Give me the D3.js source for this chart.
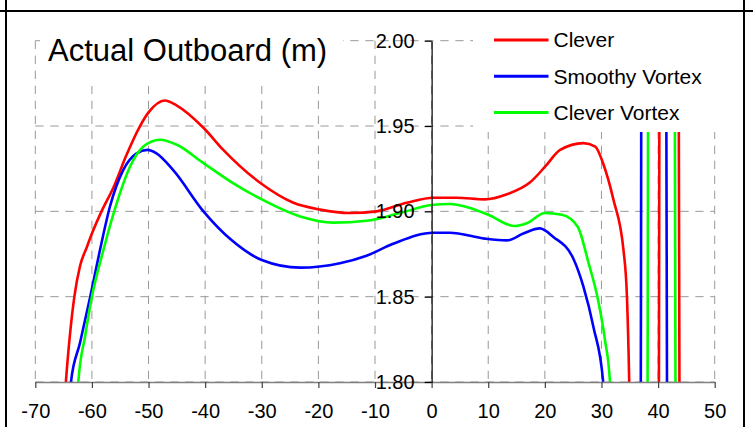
<!DOCTYPE html>
<html>
<head>
<meta charset="utf-8">
<script src="https://cdn.jsdelivr.net/npm/d3@7"></script>
<style>
  body { margin: 0; background: #fff; }
  svg { display: block; font-family: "Liberation Sans", Arial, sans-serif; }
</style>
</head>
<body>
<div id="container"></div>
<script>
var xTicks = [-70, -60, -50, -40, -30, -20, -10, 0, 10, 20, 30, 40, 50];
var yTicks = [1.80, 1.85, 1.90, 1.95, 2.00];

var seriesNames = ['Clever', 'Smoothy Vortex', 'Clever Vortex'];
var seriesColors = ['#ff0000', '#0000ff', '#00ff00'];

// [position, outboard]; points past 1.80 / 2.00 run off the plot
var clever = [
    [-65.0, 1.78], [-64.6, 1.800], [-63.9, 1.827], [-63.1, 1.850], [-62.1, 1.868],
    [-60.9, 1.879], [-60.0, 1.887], [-58.3, 1.900], [-56.2, 1.914], [-53.9, 1.933],
    [-51.5, 1.950], [-50.0, 1.958], [-47.1, 1.965], [-45.0, 1.962], [-40.3, 1.949],
    [-36.8, 1.936], [-30.0, 1.916], [-24.4, 1.905], [-19.7, 1.901], [-14.4, 1.899],
    [-9.7, 1.900], [-4.4, 1.905], [0.3, 1.908], [4.4, 1.908], [9.4, 1.907],
    [13.3, 1.910], [17.4, 1.917], [20.0, 1.926], [22.7, 1.936], [26.8, 1.940],
    [28.9, 1.938], [30.3, 1.928], [32.1, 1.907], [33.9, 1.877], [34.5, 1.850],
    [34.9, 1.800], [35.1, 1.76], [40.1, 1.76], [40.3, 2.04], [43.6, 2.04], [43.8, 1.76]
];
var smoothyVortex = [
    [-64.0, 1.78], [-63.7, 1.800], [-62.1, 1.823], [-60.3, 1.850], [-58.6, 1.877],
    [-56.8, 1.903], [-54.5, 1.924], [-52.1, 1.934], [-50.2, 1.936], [-48.6, 1.934],
    [-45.6, 1.924], [-40.3, 1.900], [-35.3, 1.883], [-30.0, 1.8715], [-23.2, 1.867],
    [-16.2, 1.8696], [-11.5, 1.874], [-6.8, 1.881], [0.3, 1.8875], [3.2, 1.8875],
    [9.4, 1.884], [13.3, 1.883], [16.2, 1.887], [19.1, 1.890], [21.5, 1.885],
    [25.0, 1.8725], [26.8, 1.856], [28.6, 1.832], [30.3, 1.800], [30.5, 1.76],
    [36.9, 1.76], [37.1, 2.04], [41.4, 2.04], [41.6, 1.76]
];
var cleverVortex = [
    [-62.7, 1.78], [-62.4, 1.800], [-61.2, 1.827], [-60.0, 1.850], [-58.0, 1.877],
    [-55.6, 1.905], [-53.3, 1.926], [-50.9, 1.938], [-48.0, 1.942], [-45.0, 1.939],
    [-40.6, 1.929], [-35.3, 1.917], [-30.0, 1.907], [-23.2, 1.897], [-17.4, 1.8934],
    [-11.5, 1.8945], [-5.6, 1.899], [0.0, 1.9037], [3.2, 1.9043], [6.8, 1.902],
    [10.0, 1.898], [14.7, 1.8914], [16.8, 1.893], [20.0, 1.899], [23.0, 1.898],
    [25.8, 1.891], [27.7, 1.870], [29.4, 1.848], [30.6, 1.825], [31.5, 1.800],
    [31.7, 1.76], [38.1, 1.76], [38.3, 2.04], [42.9, 2.04], [43.1, 1.76]
];
var seriesData = [clever, smoothyVortex, cleverVortex];

var width = 753;
var height = 427;
var plotLeft = 35.3, plotRight = 714.7, plotTop = 40.7, plotBottom = 382;

var x = d3.scaleLinear().domain([-70, 50]).range([plotLeft, plotRight]);
var y = d3.scaleLinear().domain([1.80, 2.00]).range([plotBottom, plotTop]);

var svg = d3.select('#container').append('svg')
    .attr('width', width)
    .attr('height', height);

// frame round the cell
svg.append('line').attr('x1', 6).attr('x2', 6).attr('y1', 0).attr('y2', height)
    .attr('stroke', '#000').attr('stroke-width', 2);
svg.append('line').attr('x1', 744).attr('x2', 744).attr('y1', 0).attr('y2', height)
    .attr('stroke', '#000').attr('stroke-width', 2);
svg.append('line').attr('x1', 0).attr('x2', width).attr('y1', 11).attr('y2', 11)
    .attr('stroke', '#000').attr('stroke-width', 2);

svg.append('clipPath').attr('id', 'plot-clip')
    .append('rect')
    .attr('x', plotLeft).attr('y', plotTop)
    .attr('width', plotRight - plotLeft).attr('height', plotBottom - plotTop);

// dashed grid
var grid = svg.append('g')
    .attr('stroke', '#999')
    .attr('stroke-width', 1)
    .attr('stroke-dasharray', '8.3,6.7');
grid.selectAll('line.v').data(xTicks).enter().append('line')
    .attr('class', 'v')
    .attr('x1', function (d) { return x(d); })
    .attr('x2', function (d) { return x(d); })
    .attr('y1', plotTop)
    .attr('y2', plotBottom);
grid.selectAll('line.h').data(yTicks).enter().append('line')
    .attr('class', 'h')
    .attr('x1', plotLeft)
    .attr('x2', plotRight)
    .attr('y1', function (d) { return y(d); })
    .attr('y2', function (d) { return y(d); });

// series
var line = d3.line()
    .x(function (d) { return x(d[0]); })
    .y(function (d) { return y(d[1]); })
    .curve(d3.curveMonotoneX);

svg.append('g').attr('clip-path', 'url(#plot-clip)')
    .selectAll('path').data(seriesData).enter().append('path')
    .attr('d', line)
    .attr('fill', 'none')
    .attr('stroke', function (d, i) { return seriesColors[i]; })
    .attr('stroke-width', 2.6)
    .attr('stroke-linejoin', 'round');

// x axis
var xAxis = svg.append('g')
    .attr('transform', 'translate(0,' + plotBottom + ')')
    .call(d3.axisBottom(x)
        .tickValues(xTicks)
        .tickSize(6)
        .tickSizeOuter(0)
        .tickPadding(16)
        .tickFormat(function (d) { return String(d); }));
xAxis.select('.domain').attr('stroke', '#808080').attr('stroke-width', 1.5);
xAxis.selectAll('.tick line').attr('stroke', '#404040').attr('stroke-width', 1.2);
xAxis.selectAll('.tick text')
    .attr('fill', '#000')
    .style('font-size', '20px')
    .style('font-family', '"Liberation Sans", Arial, sans-serif');

// y axis sits on x = 0
var yAxis = svg.append('g')
    .attr('transform', 'translate(' + x(0) + ',0)')
    .call(d3.axisLeft(y)
        .tickValues(yTicks)
        .tickSize(7)
        .tickSizeOuter(0)
        .tickPadding(10)
        .tickFormat(d3.format('.2f')));
yAxis.select('.domain').attr('stroke', '#000').attr('stroke-width', 1.2);
yAxis.selectAll('.tick line').attr('stroke', '#000').attr('stroke-width', 1.2);
yAxis.selectAll('.tick text')
    .attr('fill', '#000')
    .style('font-size', '20px')
    .style('font-family', '"Liberation Sans", Arial, sans-serif');

// title box
svg.append('rect')
    .attr('x', 40).attr('y', 30).attr('width', 303).attr('height', 56)
    .attr('fill', '#fff');
svg.append('text')
    .attr('x', 48).attr('y', 61)
    .style('font-size', '31px')
    .attr('fill', '#000')
    .text('Actual Outboard (m)');

// legend box
var legend = svg.append('g');
legend.append('rect')
    .attr('x', 473).attr('y', 28).attr('width', 250).attr('height', 104)
    .attr('fill', '#fff');
var legendY = [40, 76.3, 112.5];
var items = legend.selectAll('g.item').data(seriesNames).enter().append('g')
    .attr('class', 'item')
    .attr('transform', function (d, i) { return 'translate(0,' + legendY[i] + ')'; });
items.append('line')
    .attr('x1', 494).attr('x2', 548.5)
    .attr('y1', 0).attr('y2', 0)
    .attr('stroke', function (d, i) { return seriesColors[i]; })
    .attr('stroke-width', 3);
items.append('text')
    .attr('x', 553.5)
    .attr('dy', '0.35em')
    .style('font-size', '21px')
    .attr('fill', '#000')
    .text(function (d) { return d; });
</script>
</body>
</html>
